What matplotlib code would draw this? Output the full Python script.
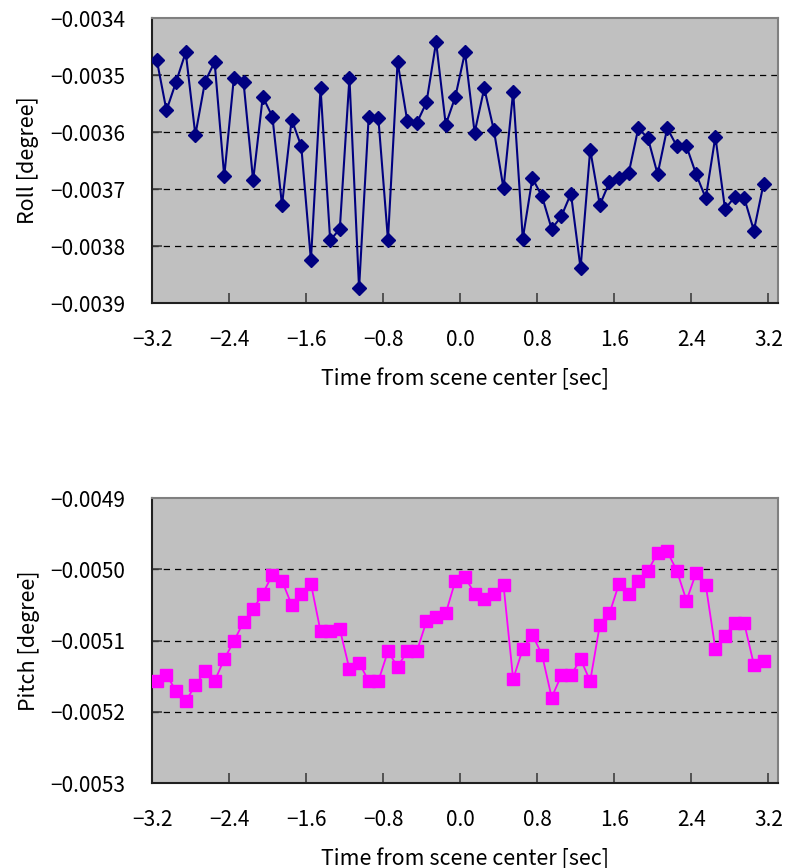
#!/usr/bin/env python3
'''roll / pitch attitude around scene center'''

import matplotlib
matplotlib.use('Agg')

import matplotlib.pyplot as plt

# time from scene center (sec)
time_sec = [-3.15, -3.05, -2.95, -2.85, -2.75, -2.65, -2.55, -2.45,
            -2.35, -2.25, -2.15, -2.05, -1.95, -1.85, -1.75, -1.65,
            -1.55, -1.45, -1.35, -1.25, -1.15, -1.05, -0.95, -0.85,
            -0.75, -0.65, -0.55, -0.45, -0.35, -0.25, -0.15, -0.05,
            0.05, 0.15, 0.25, 0.35, 0.45, 0.55, 0.65, 0.75,
            0.85, 0.95, 1.05, 1.15, 1.25, 1.35, 1.45, 1.55,
            1.65, 1.75, 1.85, 1.95, 2.05, 2.15, 2.25, 2.35,
            2.45, 2.55, 2.65, 2.75, 2.85, 2.95, 3.05, 3.15]

# roll (degree)
roll = [-0.003474, -0.003562, -0.003512, -0.003460, -0.003605, -0.003512, -0.003477, -0.003678,
        -0.003505, -0.003512, -0.003685, -0.003538, -0.003573, -0.003728, -0.003578, -0.003625,
        -0.003825, -0.003523, -0.003790, -0.003770, -0.003505, -0.003874, -0.003573, -0.003575,
        -0.003789, -0.003477, -0.003580, -0.003584, -0.003548, -0.003442, -0.003587, -0.003538,
        -0.003460, -0.003601, -0.003523, -0.003597, -0.003699, -0.003529, -0.003787, -0.003681,
        -0.003713, -0.003770, -0.003748, -0.003708, -0.003839, -0.003631, -0.003728, -0.003688,
        -0.003681, -0.003672, -0.003593, -0.003611, -0.003674, -0.003593, -0.003625, -0.003625,
        -0.003674, -0.003716, -0.003608, -0.003735, -0.003714, -0.003716, -0.003773, -0.003691]

# pitch (degree)
pitch = [-0.005157, -0.005148, -0.005171, -0.005185, -0.005163, -0.005143, -0.005157, -0.005126,
         -0.005101, -0.005074, -0.005056, -0.005034, -0.005008, -0.005016, -0.005050, -0.005035,
         -0.005020, -0.005087, -0.005087, -0.005084, -0.005140, -0.005131, -0.005157, -0.005157,
         -0.005115, -0.005137, -0.005115, -0.005115, -0.005073, -0.005067, -0.005062, -0.005016,
         -0.005011, -0.005034, -0.005041, -0.005034, -0.005022, -0.005154, -0.005112, -0.005092,
         -0.005120, -0.005180, -0.005149, -0.005149, -0.005126, -0.005157, -0.005078, -0.005062,
         -0.005020, -0.005034, -0.005016, -0.005002, -0.004977, -0.004975, -0.005002, -0.005044,
         -0.005005, -0.005022, -0.005112, -0.005093, -0.005076, -0.005076, -0.005134, -0.005129]

x_ticks = [-3.2, -2.4, -1.6, -0.8, 0.0, 0.8, 1.6, 2.4, 3.2]
roll_ticks = [-0.0039, -0.0038, -0.0037, -0.0036, -0.0035, -0.0034]
pitch_ticks = [-0.0053, -0.0052, -0.0051, -0.0050, -0.0049]


def fmt(v, nd):
    # real minus sign like the original
    return ('%.*f' % (nd, v)).replace('-', '\u2212')


def style_axes(ax, yticks, ylabel):
    ax.set_facecolor('#C0C0C0')
    ax.set_xlim(-3.2, 3.3)
    ax.set_ylim(yticks[0], yticks[-1])
    ax.set_xticks(x_ticks)
    ax.set_xticklabels([fmt(t, 1) for t in x_ticks])
    ax.set_yticks(yticks)
    ax.set_yticklabels([fmt(t, 4) for t in yticks])
    ax.tick_params(direction='in', length=7, width=1.2, pad=19,
                   labelsize=15, color='#404040')
    for y in yticks[1:-1]:
        ax.axhline(y, color='black', linestyle=(0, (5, 4)), linewidth=0.9, zorder=1)
    for side in ('left', 'bottom'):
        ax.spines[side].set_color('#202020')
        ax.spines[side].set_linewidth(1.5)
    for side in ('top', 'right'):
        ax.spines[side].set_color('#808080')
        ax.spines[side].set_linewidth(1.5)
    ax.set_xlabel('Time from scene center [sec]', fontsize=15.5, labelpad=12)
    ax.set_ylabel(ylabel, fontsize=15.5, labelpad=8)


def main():
    plt.rcParams['font.family'] = ['Noto Sans CJK JP', 'DejaVu Sans']

    fig = plt.figure(figsize=(7.86, 8.68), dpi=100)

    ax1 = fig.add_axes([0.1934, 0.6509, 0.7964, 0.3283])
    ax1.plot(time_sec, roll, color='#000080', linewidth=1.5,
             marker='D', markersize=7.5, zorder=3)
    style_axes(ax1, roll_ticks, 'Roll [degree]')

    ax2 = fig.add_axes([0.1934, 0.0979, 0.7964, 0.3283])
    ax2.plot(time_sec, pitch, color='#FF00FF', linewidth=1.3,
             marker='s', markersize=8, zorder=3)
    style_axes(ax2, pitch_ticks, 'Pitch [degree]')

    fig.savefig('out.png', dpi=100)


if __name__ == "__main__":
    main()
